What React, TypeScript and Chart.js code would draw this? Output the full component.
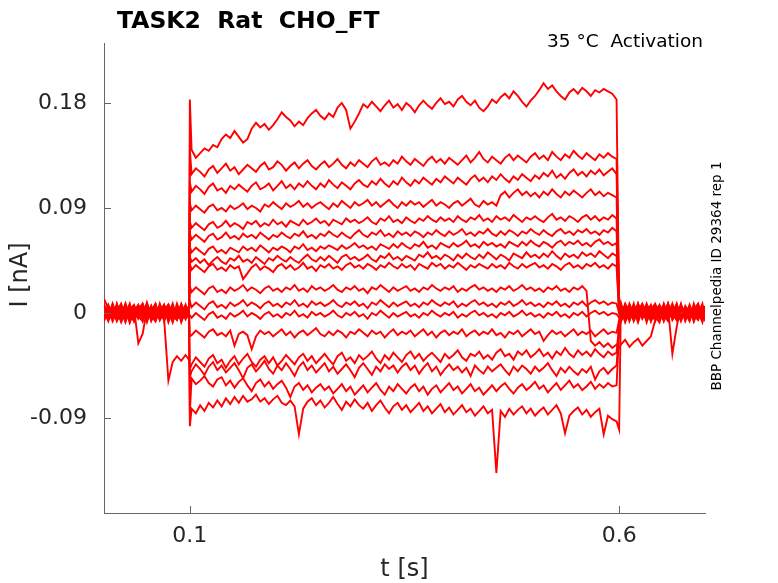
import { useEffect, useRef } from "react";
import { Chart, registerables } from "chart.js";

Chart.register(...registerables);

// time base [s]: pre-pulse (21) | onset (1) | pulse (100) | offset (1) | tail (21)
const TIME = [
  0, 0.005, 0.01, 0.015, 0.02, 0.025, 0.03, 0.035, 0.04, 0.045,
  0.05, 0.055, 0.06, 0.065, 0.07, 0.075, 0.08, 0.085, 0.09, 0.095, 0.099,
  0.1,
  0.102, 0.107, 0.112, 0.117, 0.122, 0.127, 0.132, 0.137, 0.142, 0.147,
  0.152, 0.157, 0.162, 0.167, 0.172, 0.177, 0.182, 0.187, 0.192, 0.197,
  0.202, 0.207, 0.212, 0.217, 0.222, 0.227, 0.232, 0.237, 0.242, 0.247,
  0.252, 0.257, 0.262, 0.267, 0.272, 0.277, 0.282, 0.287, 0.292, 0.297,
  0.302, 0.307, 0.312, 0.317, 0.322, 0.327, 0.332, 0.337, 0.342, 0.347,
  0.352, 0.357, 0.362, 0.367, 0.372, 0.377, 0.382, 0.387, 0.392, 0.397,
  0.402, 0.407, 0.412, 0.417, 0.422, 0.427, 0.432, 0.437, 0.442, 0.447,
  0.452, 0.457, 0.462, 0.467, 0.472, 0.477, 0.482, 0.487, 0.492, 0.497,
  0.502, 0.507, 0.512, 0.517, 0.522, 0.527, 0.532, 0.537, 0.542, 0.547,
  0.552, 0.557, 0.562, 0.567, 0.572, 0.577, 0.582, 0.587, 0.592, 0.597,
  0.6,
  0.602, 0.607, 0.612, 0.617, 0.622, 0.627, 0.632, 0.637, 0.642, 0.647,
  0.652, 0.657, 0.662, 0.667, 0.672, 0.677, 0.682, 0.687, 0.692, 0.697, 0.7,
];

// current traces in pA (converted to nA for the axis)
const TRACE_01_PA = [
  12, 4, -6, 8, -3, 5, -8, 2, 7, -4, 9, -2, -7, 4, 1, -5, 6, -3, 8, -1, 3,
  183,
  140, 133, 137, 141, 139, 144, 142, 149, 153, 150,
  156, 151, 146, 149, 158, 163, 159, 162, 157, 161,
  166, 172, 168, 165, 160, 164, 161, 167, 171, 174,
  169, 166, 171, 168, 176, 180, 174, 158, 164, 171,
  179, 176, 181, 177, 173, 178, 182, 176, 179, 174,
  180, 177, 172, 178, 182, 178, 175, 180, 184, 179,
  181, 177, 183, 186, 181, 178, 182, 176, 173, 177,
  183, 180, 185, 188, 184, 190, 186, 181, 177, 182,
  186, 191, 197, 192, 195, 190, 186, 183, 189, 192,
  188, 193, 190, 186, 191, 189, 192, 190, 188, 183,
  0,
  9, -4, 6, -7, 2, 8, -3, 5, -6, 1, 7, -5, 3, -2, 8, -6, 4, 0, -4, 6, -1,
];
const TRACE_02_PA = [
  -3, 6, -5, 2, 8, -7, 1, -4, 5, -1, 7, -6, 3, -2, 6, -8, 2, 5, -3, 1, -5,
  140,
  119, 124, 121, 117, 123, 126, 120, 124, 128, 122,
  125, 119, 123, 127, 124, 121, 126, 129, 123, 125,
  130, 127, 122, 126, 129, 124, 128, 131, 126, 123,
  127, 130, 125, 128, 132, 127, 124, 129, 126, 131,
  128, 125, 130, 133, 127, 129, 126, 131, 128, 134,
  130, 127, 132, 129, 126, 131, 134, 129, 132, 128,
  133, 130, 127, 131, 135, 129, 133, 138, 132, 129,
  134, 131, 128, 133, 136, 131, 135, 132, 129, 134,
  137, 132, 135, 131, 138, 134, 131, 136, 133, 139,
  135, 132, 137, 134, 131, 136, 133, 137, 134, 132,
  10,
  -5, 7, -2, 4, -8, 3, 6, -1, -6, 5, 0, 8, -4, 2, -7, 4, 1, -3, 6, -5, 2,
];
const TRACE_03_PA = [
  5, -2, 7, -6, 0, 4, -8, 3, -1, 6, -4, 2, 8, -5, -1, 4, -7, 6, 0, -3, 5,
  112,
  104, 109, 106, 102, 108, 111, 105, 107, 103, 109,
  106, 110, 107, 104, 109, 112, 106, 108, 111, 105,
  109, 113, 107, 110, 106, 111, 108, 113, 109, 106,
  111, 108, 114, 110, 107, 112, 109, 106, 111, 114,
  110, 108, 113, 110, 115, 111, 108, 113, 110, 116,
  112, 109, 114, 111, 116, 113, 110, 115, 112, 117,
  114, 111, 116, 113, 110, 115, 118, 113, 116, 112,
  117, 114, 119, 115, 112, 117, 114, 119, 116, 113,
  118, 115, 120, 117, 122, 116, 119, 115, 120, 123,
  118, 121, 117, 122, 119, 123, 118, 121, 124, 119,
  8,
  3, -6, 8, -1, 5, -4, 0, 7, -3, -8, 4, 2, -5, 6, -2, 1, -6, 8, -3, 4, 0,
];
const TRACE_04_PA = [
  -6, 3, 1, -4, 7, -2, 5, -7, 2, 8, -3, 0, -5, 6, -1, 3, -6, 4, -2, 7, -4,
  94,
  88, 92, 89, 86, 91, 93, 88, 90, 87, 92,
  89, 91, 94, 89, 92, 90, 87, 93, 91, 95,
  92, 89, 94, 91, 93, 96, 91, 94, 90, 93,
  95, 92, 89, 94, 91, 96, 93, 90, 95, 92,
  94, 97, 92, 95, 91, 94, 97, 93, 90, 95,
  92, 96, 93, 95, 91, 94, 97, 92, 95, 93,
  90, 94, 96, 92, 95, 98, 93, 91, 96, 93,
  95, 92, 101, 104, 99, 103, 106, 101, 104, 100,
  103, 99, 104, 101, 106, 102, 99, 104, 101, 105,
  102, 99, 103, 106, 101, 104, 100, 103, 101, 99,
  6,
  -7, 2, 5, -4, 7, 0, -5, 3, 8, -2, -6, 4, 1, -3, 6, -7, 2, 5, -1, -4, 6,
];
const TRACE_05_PA = [
  2, -7, 5, 0, -3, 8, -5, 1, 4, -6, 3, -1, 6, -4, 2, 7, -3, -6, 5, 1, -2,
  78,
  73, 77, 74, 71, 76, 78, 73, 75, 79, 74,
  77, 75, 72, 78, 76, 79, 74, 77, 75, 80,
  76, 78, 74, 79, 77, 75, 80, 76, 78, 81,
  77, 79, 75, 80, 78, 76, 81, 78, 80, 77,
  79, 82, 78, 76, 81, 79, 83, 78, 80, 77,
  82, 79, 77, 81, 79, 83, 80, 78, 82, 79,
  81, 78, 83, 80, 78, 82, 80, 84, 79, 81,
  78, 83, 80, 82, 79, 84, 81, 78, 82, 80,
  83, 80, 78, 82, 85, 80, 82, 79, 83, 81,
  78, 82, 84, 80, 83, 79, 82, 80, 84, 81,
  4,
  6, 0, -3, 8, -6, 4, 2, -5, 1, 7, -2, -7, 5, 3, -4, 6, 0, -2, 7, -6, 3,
];
const TRACE_06_PA = [
  -1, 5, -4, 7, -6, 2, 0, 6, -3, -7, 4, 1, -5, 8, -2, 3, -4, 6, -8, 2, 4,
  68,
  63, 67, 64, 61, 66, 68, 63, 65, 69, 64,
  66, 63, 68, 65, 67, 64, 69, 66, 63, 67,
  65, 69, 66, 64, 68, 66, 70, 65, 67, 64,
  68, 66, 70, 67, 65, 69, 66, 64, 68, 71,
  67, 65, 69, 67, 71, 66, 68, 65, 70, 67,
  69, 66, 70, 68, 65, 69, 67, 71, 68, 66,
  70, 67, 69, 72, 67, 69, 66, 70, 68, 72,
  68, 66, 70, 67, 71, 69, 66, 70, 68, 72,
  69, 67, 71, 68, 66, 70, 72, 68, 70, 67,
  71, 69, 72, 68, 70, 67, 71, 69, 73, 70,
  3,
  -2, 5, -7, 3, 1, -4, 8, -1, 4, -6, 6, 0, -3, 7, -5, 2, 5, -4, 1, -8, 3,
];
const TRACE_07_PA = [
  7, -3, 2, -5, 4, -1, 8, -6, 3, 0, -4, 6, -2, 5, -7, 1, 4, -3, 7, -5, 0,
  57,
  52, 56, 53, 50, 55, 57, 52, 54, 51, 56,
  54, 52, 57, 54, 56, 53, 58, 55, 52, 56,
  54, 57, 55, 52, 57, 55, 59, 54, 56, 53,
  57, 55, 58, 56, 54, 58, 55, 57, 60, 56,
  58, 55, 57, 54, 59, 57, 55, 59, 56, 60,
  57, 55, 59, 57, 61, 56, 58, 55, 60, 58,
  56, 60, 57, 59, 62, 57, 59, 56, 61, 58,
  60, 57, 59, 56, 61, 59, 57, 61, 58, 62,
  59, 57, 61, 59, 56, 60, 62, 58, 61, 59,
  62, 58, 60, 57, 61, 63, 59, 61, 58, 60,
  2,
  4, -8, 2, 6, -3, 5, -6, 0, 7, -4, 3, -1, 8, -5, 2, -3, 6, -7, 4, 1, -2,
];
const TRACE_08_PA = [
  -5, 1, 6, -3, 0, 7, -6, 4, -2, 5, -8, 3, 1, -4, 6, -1, -5, 8, -2, 4, -3,
  48,
  44, 47, 43, 46, 41, 45, 48, 44, 42, 47,
  45, 49, 44, 46, 43, 48, 45, 42, 47, 45,
  49, 46, 44, 48, 45, 43, 47, 50, 46, 44,
  48, 45, 49, 46, 43, 48, 50, 46, 48, 45,
  47, 50, 46, 44, 49, 47, 51, 46, 48, 45,
  49, 47, 45, 50, 48, 52, 47, 49, 46, 50,
  48, 45, 50, 47, 51, 48, 46, 50, 47, 52,
  49, 46, 50, 48, 45, 51, 49, 47, 52, 48,
  50, 47, 51, 48, 53, 49, 46, 51, 48, 50,
  47, 52, 49, 51, 48, 53, 50, 47, 51, 49,
  1,
  -6, 3, 0, -5, 8, -2, 4, 6, -7, 2, -4, 5, 1, -6, 7, -1, -3, 4, -5, 6, 0,
];
const TRACE_09_PA = [
  3, -6, -1, 5, -4, 8, -2, -7, 4, 1, -3, 6, -5, 2, 7, -4, 0, -6, 3, 5, -1,
  42,
  37, 41, 38, 35, 40, 42, 37, 39, 36, 41,
  38, 40, 29, 34, 39, 42, 37, 40, 38, 35,
  40, 42, 38, 41, 37, 39, 43, 38, 40, 36,
  41, 39, 42, 38, 40, 37, 41, 43, 39, 41,
  38, 42, 40, 37, 41, 39, 43, 40, 38, 42,
  39, 41, 37, 42, 40, 38, 43, 40, 42, 38,
  41, 39, 43, 40, 37, 41, 39, 42, 40, 38,
  42, 39, 41, 38, 43, 40, 38, 42, 39, 41,
  43, 39, 41, 38, 42, 40, 37, 41, 43, 39,
  41, 38, 42, 40, 43, 39, 41, 38, 42, 40,
  0,
  1, 6, -4, 2, -7, 7, -1, 3, -5, 5, -3, 8, -6, 0, 4, -4, 7, -2, 3, -6, 5,
];
const TRACE_10_PA = [
  -4, 7, -2, 3, -8, 1, 5, -3, 6, -5, 2, -1, 7, -6, 0, 4, -3, 5, -7, 2, 6,
  23,
  18, 22, 19, 16, 21, 23, 18, 20, 17, 22,
  19, 21, 24, 19, 22, 20, 17, 21, 23, 19,
  21, 18, 22, 20, 24, 19, 21, 18, 23, 20,
  22, 19, 21, 24, 20, 18, 22, 20, 23, 19,
  21, 17, 22, 20, 24, 21, 18, 22, 19, 21,
  23, 19, 21, 18, 22, 20, 24, 21, 19, 22,
  20, 23, 18, 21, 19, 22, 24, 20, 22, 19,
  21, 18, 22, 20, 23, 19, 21, 24, 20, 22,
  19, 21, 18, 22, 20, 23, 19, 21, 18, 22,
  20, 23, 19, -24, -28, -25, -29, -26, -30, -27,
  -30,
  -27, -23, -29, -25, -22, -28, -24, -20, -6, 3, -5, 6, -2, 7, -4, 1, -7, 4, -1, 5, -3,
];
const TRACE_11_PA = [
  6, -1, -5, 4, 2, -6, 3, 7, -4, 0, 5, -7, 1, -3, 6, -2, 8, -5, 1, -4, 3,
  10,
  5, 9, 6, 3, 8, 10, 5, 7, 4, 9,
  6, 8, 11, 6, 9, 7, 4, 8, 10, 6,
  8, 5, 9, 7, 11, 6, 8, 5, 10, 7,
  9, 6, 8, 11, 7, 5, 9, 7, 10, 6,
  8, 4, 9, 7, 11, 8, 5, 9, 6, 8,
  10, 6, 8, 5, 9, 7, 11, 8, 6, 9,
  7, 10, 5, 8, 6, 9, 11, 7, 9, 6,
  8, 5, 9, 7, 10, 6, 8, 11, 7, 9,
  6, 8, 5, 9, 7, 10, 6, 8, 5, 9,
  7, 10, 6, 9, 11, 8, 10, 7, 9, 8,
  0,
  7, -3, 4, -6, 0, 5, -8, 2, 6, -2, 1, -5, 7, -4, 3, 0, -6, 5, -1, 8, -3,
];
const TRACE_12_PA = [
  1, 5, -3, 6, -5, 2, -1, 4, -26, -18, 3, -4, 7, -2, 0, 5, -6, 2, -3, 6, -1,
  -2,
  -4, 0, -3, -6, -1, 1, -4, -2, -5, 0,
  -3, -1, 2, -3, 0, -2, -5, -1, 1, -3,
  -1, -4, 0, -2, 2, -3, -1, -4, 1, -2,
  0, -3, -1, 2, -2, -4, 0, -2, 1, -3,
  -1, -5, 0, -2, 2, -1, -4, 0, -3, -1,
  1, -3, -1, -4, 0, -2, 2, -1, -3, 0,
  -2, 1, -4, -1, -3, 0, 2, -2, 0, -3,
  -1, -4, 0, -2, 1, -3, -1, 2, -2, 0,
  -3, -1, -4, 0, -2, 1, -3, -1, -4, 0,
  -2, 1, -3, 0, 2, -1, 1, -2, 0, -1,
  -4,
  -4, 2, 7, -5, 3, -1, 6, -7, 0, 4, -3, 8, -2, 5, -6, 1, 3, -4, 6, -2, 4,
];
const TRACE_13_PA = [
  -7, 2, 4, -1, 6, -4, 0, -6, 3, 8, -2, 5, -5, 1, -3, 7, -1, 3, -6, 0, 4,
  -20,
  -19, -15, -18, -21, -16, -14, -19, -17, -20, -15,
  -28, -18, -16, -19, -31, -20, -15, -18, -16, -20,
  -17, -14, -19, -16, -21, -17, -15, -19, -16, -13,
  -18, -20, -16, -19, -15, -17, -21, -16, -18, -14,
  -17, -20, -15, -18, -16, -21, -17, -14, -19, -16,
  -18, -15, -20, -17, -14, -19, -16, -21, -17, -15,
  -19, -16, -18, -14, -20, -17, -15, -19, -16, -18,
  -14, -19, -17, -21, -16, -18, -15, -20, -17, -14,
  -18, -16, -24, -19, -15, -18, -16, -20, -17, -14,
  -19, -16, -18, -15, -20, -17, -14, -18, -16, -17,
  -6,
  2, -5, 6, -2, 8, -4, 1, 5, -6, 3, -1, 4, -35, -12, 6, -3, 2, -5, 7, -1, 3,
];
const TRACE_14_PA = [
  5, -3, 7, -6, 2, -8, 4, -1, 6, -4, 8, -2, -7, 3, -5, -58, -42, -37, -41, -36, -40,
  -48,
  -44, -38, -42, -46, -39, -36, -43, -40, -47, -41,
  -37, -44, -39, -35, -42, -46, -40, -37, -43, -38,
  -45, -41, -36, -40, -44, -38, -35, -41, -37, -43,
  -39, -35, -40, -44, -37, -34, -41, -38, -43, -36,
  -40, -37, -33, -39, -43, -36, -40, -34, -38, -42,
  -36, -33, -39, -35, -41, -37, -34, -38, -42, -35,
  -39, -36, -32, -38, -41, -35, -37, -33, -39, -36,
  -40, -34, -31, -37, -35, -40, -33, -36, -32, -38,
  -35, -31, -37, -34, -39, -33, -36, -30, -35, -38,
  -32, -36, -33, -37, -31, -35, -38, -33, -36, -34,
  -10,
  -8, 4, -1, 6, -4, 2, 7, -3, 0, 5, -6, 3, -2, 8, -5, 1, 4, -7, 2, -1, 5,
];
const TRACE_15_PA = [
  4, -5, 8, -2, -6, 3, 1, -4, 6, -7, 2, 5, -3, 0, 7, -5, 3, -1, -4, 6, -2,
  -55,
  -50, -44, -48, -53, -46, -42, -49, -45, -51, -47,
  -43, -49, -56, -47, -44, -50, -46, -41, -48, -52,
  -45, -49, -43, -48, -54, -46, -42, -49, -45, -51,
  -47, -43, -50, -46, -52, -48, -44, -49, -55, -47,
  -43, -48, -53, -46, -50, -44, -48, -45, -51, -46,
  -43, -49, -45, -52, -47, -43, -50, -46, -53, -48,
  -44, -49, -46, -51, -47, -54, -45, -49, -52, -46,
  -50, -47, -44, -49, -53, -46, -50, -45, -48, -52,
  -46, -50, -47, -43, -49, -54, -47, -51, -46, -50,
  -53, -48, -51, -46, -57, -50, -47, -52, -48, -45,
  -12,
  5, -2, -6, 3, 7, -5, 2, 0, -4, 6, -7, 1, 4, -3, 6, -1, -5, 3, 8, -4, 0,
];
const TRACE_16_PA = [
  -2, 6, -7, 1, 5, -3, 7, -5, 0, 3, -6, 4, -1, 6, -4, 2, -8, 5, -2, 1, 3,
  -85,
  -56, -61, -58, -54, -60, -63, -57, -55, -62, -58,
  -64, -59, -56, -62, -67, -60, -57, -63, -59, -65,
  -61, -58, -64, -72, -63, -60, -66, -62, -68, -64,
  -61, -66, -63, -69, -65, -61, -67, -63, -70, -66,
  -62, -68, -64, -60, -66, -70, -63, -67, -61, -65,
  -69, -64, -61, -67, -63, -70, -65, -62, -68, -64,
  -60, -66, -63, -69, -65, -61, -67, -64, -70, -66,
  -62, -67, -63, -60, -65, -69, -64, -61, -66, -63,
  -59, -65, -62, -68, -64, -60, -66, -62, -58, -64,
  -61, -66, -63, -59, -65, -61, -64, -60, -63, -62,
  -15,
  -3, 8, 1, -6, 4, -2, 5, -7, 3, 6, -1, -4, 2, 7, -5, 0, 5, -2, -6, 4, 1,
];
const TRACE_17_PA = [
  8, -4, 3, -7, 1, 6, -2, 4, -5, 2, 0, -3, 5, -6, 3, 7, -1, -4, 2, -5, 6,
  -97,
  -82, -86, -79, -84, -77, -81, -75, -80, -73, -78,
  -72, -77, -71, -76, -74, -70, -76, -73, -78, -74,
  -71, -77, -79, -75, -80, -104, -82, -76, -73, -79,
  -75, -81, -77, -72, -78, -83, -76, -80, -74, -79,
  -82, -77, -84, -79, -75, -81, -86, -80, -77, -83,
  -79, -85, -81, -77, -84, -80, -86, -82, -78, -85,
  -81, -87, -83, -79, -85, -82, -88, -84, -80, -86,
  -83, -137, -84, -89, -82, -87, -83, -80, -86, -82,
  -88, -84, -81, -87, -83, -79, -86, -103, -88, -84,
  -81, -87, -83, -89, -85, -82, -104, -88, -91, -93,
  -100,
  6, -7, 3, 0, -3, 7, -4, 4, 1, -5, 8, -2, 0, -6, 5, 2, -3, 6, -4, 3, -7,
];

const TRACES_PA = [
  TRACE_01_PA, TRACE_02_PA, TRACE_03_PA, TRACE_04_PA, TRACE_05_PA, TRACE_06_PA,
  TRACE_07_PA, TRACE_08_PA, TRACE_09_PA, TRACE_10_PA, TRACE_11_PA, TRACE_12_PA,
  TRACE_13_PA, TRACE_14_PA, TRACE_15_PA, TRACE_16_PA, TRACE_17_PA,
];

const X_TICKS = [0.1, 0.6];
const X_TICK_LABELS = ["0.1", "0.6"];
const Y_TICKS = [-0.09, 0, 0.09, 0.18];
const Y_TICK_LABELS = ["-0.09", "0", "0.09", "0.18"];
const X_RANGE = [0, 0.7];
const Y_RANGE = [-0.1714, 0.2314];

const TITLE = "TASK2  Rat  CHO_FT";
const NOTE = "35 °C  Activation";
const SIDE_NOTE = "BBP Channelpedia ID 29364 rep 1";
const X_LABEL = "t [s]";
const Y_LABEL = "I [nA]";

const FONT = "'DejaVu Sans', 'Liberation Sans', sans-serif";
const AXIS_COLOR = "#666666";
const TEXT_COLOR = "#262626";
const PA_PER_NA = 1000;

const innerTicks = {
  id: "innerTicks",
  afterDraw(chart: any) {
    const { ctx, chartArea, scales } = chart;
    ctx.save();
    ctx.strokeStyle = AXIS_COLOR;
    ctx.lineWidth = 1;
    ctx.beginPath();
    for (const v of X_TICKS) {
      const px = Math.round(scales.x.getPixelForValue(v)) + 0.5;
      ctx.moveTo(px, chartArea.bottom);
      ctx.lineTo(px, chartArea.bottom - 7);
    }
    for (const v of Y_TICKS) {
      const py = Math.round(scales.y.getPixelForValue(v)) + 0.5;
      ctx.moveTo(chartArea.left, py);
      ctx.lineTo(chartArea.left + 7, py);
    }
    ctx.stroke();
    ctx.restore();
  },
};

const texts = {
  id: "texts",
  afterDraw(chart: any) {
    const { ctx, chartArea } = chart;
    ctx.save();
    ctx.fillStyle = "#000000";
    ctx.font = `bold 23.5px ${FONT}`;
    ctx.textAlign = "left";
    ctx.textBaseline = "alphabetic";
    ctx.fillText(TITLE, 117, 28);

    ctx.font = `18.5px ${FONT}`;
    ctx.textAlign = "right";
    ctx.fillText(NOTE, 703, 47);

    ctx.save();
    ctx.translate(721, 276);
    ctx.rotate(-Math.PI / 2);
    ctx.font = `13.5px ${FONT}`;
    ctx.textAlign = "center";
    ctx.fillText(SIDE_NOTE, 0, 0);
    ctx.restore();

    ctx.fillStyle = TEXT_COLOR;
    ctx.font = `24px ${FONT}`;
    ctx.textAlign = "center";
    ctx.fillText(X_LABEL, (chartArea.left + chartArea.right) / 2, 576);

    ctx.save();
    ctx.translate(27, 275);
    ctx.rotate(-Math.PI / 2);
    ctx.fillText(Y_LABEL, 0, 0);
    ctx.restore();
    ctx.restore();
  },
};

export default function App() {
  const canvasRef = useRef<HTMLCanvasElement | null>(null);

  useEffect(() => {
    document.body.style.margin = "0";
    const canvas = canvasRef.current;
    if (!canvas) return;
    const datasets = TRACES_PA.map((trace) => ({
      data: TIME.map((t, i) => ({ x: t, y: trace[i] / PA_PER_NA })),
      borderColor: "#ff0000",
      borderWidth: 1.9,
      pointRadius: 0,
      fill: false,
      tension: 0,
    }));
    const chart = new Chart(canvas, {
      type: "line",
      data: { datasets },
      options: {
        animation: false,
        responsive: false,
        layout: { padding: { top: 43, right: 73, left: 0, bottom: 0 } },
        plugins: {
          legend: { display: false },
          tooltip: { enabled: false },
          title: { display: false },
        },
        scales: {
          x: {
            type: "linear",
            min: X_RANGE[0],
            max: X_RANGE[1],
            afterBuildTicks: (s: any) => {
              s.ticks = X_TICKS.map((v) => ({ value: v }));
            },
            afterFit: (s: any) => {
              s.height = 70;
            },
            ticks: {
              autoSkip: false,
              maxRotation: 0,
              padding: 10,
              color: TEXT_COLOR,
              font: { family: FONT, size: 22 },
              callback: (v: any) => X_TICK_LABELS[X_TICKS.indexOf(v)],
            },
            grid: { display: false, drawTicks: false },
            border: { display: true, color: AXIS_COLOR, width: 1 },
          },
          y: {
            type: "linear",
            min: Y_RANGE[0],
            max: Y_RANGE[1],
            afterBuildTicks: (s: any) => {
              s.ticks = Y_TICKS.map((v) => ({ value: v }));
            },
            afterFit: (s: any) => {
              s.width = 104;
            },
            ticks: {
              autoSkip: false,
              padding: 17,
              color: TEXT_COLOR,
              font: { family: FONT, size: 22 },
              callback: (v: any) => Y_TICK_LABELS[Y_TICKS.indexOf(v)],
            },
            grid: { display: false, drawTicks: false },
            border: { display: true, color: AXIS_COLOR, width: 1 },
          },
        },
      },
      plugins: [innerTicks, texts],
    } as any);
    return () => chart.destroy();
  }, []);

  return (
    <div style={{ width: 778, height: 583, position: "relative", background: "#ffffff" }}>
      <canvas ref={canvasRef} width={778} height={583} style={{ display: "block" }} />
    </div>
  );
}
